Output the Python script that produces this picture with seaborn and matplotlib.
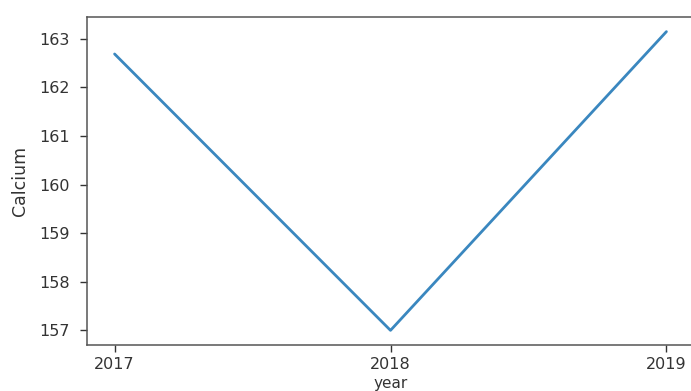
import matplotlib
matplotlib.use("Agg")
import matplotlib.pyplot as plt
import seaborn as sns
import pandas as pd

# Yearly calcium readings
years = ["2017", "2018", "2019"]
calcium = [162.69, 157.0, 163.15]

df = pd.DataFrame({"year": years, "Calcium": calcium})

sns.set_style("ticks")
plt.rcParams["font.family"] = ["DejaVu Sans"]

fig = plt.figure(figsize=(6.91, 3.91), dpi=100)
ax = fig.add_axes([87 / 691, 1 - 345.3 / 391, 607 / 691, (345.3 - 16.7) / 391])

sns.lineplot(data=df, x="year", y="Calcium", ax=ax, color="#3a87bf", linewidth=2.0)

ax.set_xlabel("year", fontsize=11, color="#333333", labelpad=2.5)
ax.set_ylabel("Calcium", fontsize=12.5, color="#333333", labelpad=7)
ax.tick_params(labelsize=11.5, colors="#333333", length=5, width=1)
ax.tick_params(axis="y", pad=7.5)
for sp in ax.spines.values():
    sp.set_color("#555555")
    sp.set_linewidth(1.1)

fig.savefig("out.png", dpi=100)
